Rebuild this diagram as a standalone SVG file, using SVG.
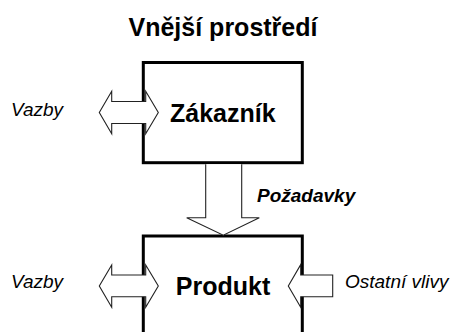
<svg xmlns="http://www.w3.org/2000/svg" width="451" height="332" viewBox="0 0 451 332">
  <style>
    .box { fill: #fff; stroke: #000; stroke-width: 3; }
    .arrow { fill: #fff; stroke: #222; stroke-width: 1.1; stroke-linejoin: miter; }
    .title { font-family: "Liberation Sans", Arial, sans-serif; font-weight: bold; font-size: 25px; fill: #000; text-anchor: middle; }
    .node-label { font-family: "Liberation Sans", Arial, sans-serif; font-weight: bold; font-size: 25px; fill: #000; text-anchor: middle; }
    .edge-label { font-family: "Liberation Sans", Arial, sans-serif; font-style: italic; font-size: 19px; fill: #000; }
    .edge-label-bold { font-family: "Liberation Sans", Arial, sans-serif; font-style: italic; font-weight: bold; font-size: 19px; fill: #000; }
  </style>

  <rect width="451" height="332" fill="#fff"/>

  <text class="title" x="223" y="36">Vnější prostředí</text>

  <!-- nodes -->
  <g id="zakaznik">
    <rect class="box" x="143.3" y="62.5" width="159" height="100.2"/>
    <text class="node-label" x="222.8" y="121.7">Zákazník</text>
  </g>

  <g id="produkt">
    <path class="box" d="M143.3,340 V236 H302.3 V340"/>
    <text class="node-label" x="223" y="295">Produkt</text>
  </g>

  <!-- connectors: block arrows drawn over the box edges -->
  <g id="connectors">
    <!-- links of the customer -->
    <path class="arrow" d="M99.3,112.5 L111.7,91.3 V101.5 H145.7 V91.3 L158.3,112.5 L145.7,133.7 V123.5 H111.7 V133.7 Z"/>
    <!-- requirements from customer to product -->
    <path class="arrow" d="M205.7,164.2 V217.7 H186.7 L223.3,235.2 L259.3,217.7 H241.7 V164.2"/>
    <!-- links of the product -->
    <path class="arrow" d="M99.3,286 L111.7,265 V275 H145.7 V265 L158.3,286 L145.7,307.2 V296.8 H111.7 V307.2 Z"/>
    <!-- other influences -->
    <path class="arrow" d="M288.3,286 L300.7,264.6 V275 H332.7 V296.8 H300.7 V307.3 Z"/>
  </g>

  <g id="labels">
    <text class="edge-label" x="11" y="115.7">Vazby</text>
    <text class="edge-label-bold" x="257" y="201.7">Požadavky</text>
    <text class="edge-label" x="11" y="288.3">Vazby</text>
    <text class="edge-label" x="345" y="288.3">Ostatní vlivy</text>
  </g>
</svg>
